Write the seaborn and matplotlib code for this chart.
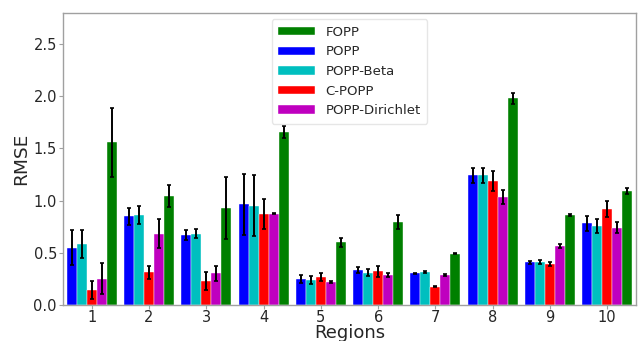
import matplotlib
matplotlib.use("Agg")
import matplotlib.pyplot as plt
import seaborn as sns
import pandas as pd
import numpy as np

regions = ["1", "2", "3", "4", "5", "6", "7", "8", "9", "10"]
methods = ["POPP", "POPP-Beta", "C-POPP", "POPP-Dirichlet", "FOPP"]
colors = ["#0000ff", "#00bfbf", "#ff0000", "#bf00bf", "#008000"]
legend_order = ["FOPP", "POPP", "POPP-Beta", "C-POPP", "POPP-Dirichlet"]

popp = [0.549, 0.848, 0.667, 0.963, 0.249, 0.332, 0.303, 1.241, 0.408, 0.781]
popp_beta = [0.584, 0.861, 0.683, 0.950, 0.239, 0.309, 0.316, 1.241, 0.415, 0.756]
c_popp = [0.144, 0.313, 0.230, 0.868, 0.265, 0.322, 0.175, 1.187, 0.392, 0.919]
popp_dir = [0.252, 0.683, 0.303, 0.874, 0.217, 0.287, 0.287, 1.033, 0.561, 0.740]
fopp = [1.560, 1.043, 0.928, 1.656, 0.600, 0.794, 0.491, 1.978, 0.861, 1.091]

popp_err = [0.165, 0.080, 0.048, 0.295, 0.034, 0.029, 0.005, 0.073, 0.016, 0.070]
popp_beta_err = [0.130, 0.090, 0.046, 0.293, 0.035, 0.032, 0.005, 0.075, 0.020, 0.070]
c_popp_err = [0.083, 0.060, 0.088, 0.145, 0.037, 0.054, 0.005, 0.100, 0.019, 0.080]
popp_dir_err = [0.148, 0.136, 0.073, 0.007, 0.010, 0.022, 0.006, 0.070, 0.019, 0.054]
fopp_err = [0.330, 0.104, 0.300, 0.056, 0.040, 0.067, 0.005, 0.056, 0.013, 0.032]

values = [popp, popp_beta, c_popp, popp_dir, fopp]
errors = [popp_err, popp_beta_err, c_popp_err, popp_dir_err, fopp_err]

rows = []
for m, vals, errs in zip(methods, values, errors):
    for r, v, e in zip(regions, vals, errs):
        rows.append({"Region": r, "Method": m, "RMSE": v, "err": e})
df = pd.DataFrame(rows)

sns.set_style("white")
plt.rcParams["font.family"] = ["DejaVu Sans"]

fig = plt.figure(figsize=(6.41, 3.41), dpi=100)
ax = fig.add_axes([0.0985, 0.1056, 0.8935, 0.8574])

sns.barplot(data=df, x="Region", y="RMSE", hue="Method", order=regions,
            hue_order=methods, palette=colors, width=0.875, errorbar=None,
            saturation=1, edgecolor="white", linewidth=0.3, ax=ax)

# error bars from the same values, centred on each bar
for container, errs in zip(ax.containers, errors):
    xs = [b.get_x() + b.get_width() / 2 for b in container]
    ys = [b.get_height() for b in container]
    ax.errorbar(xs, ys, yerr=errs, fmt="none", ecolor="black",
                elinewidth=1.4, capsize=1.5, capthick=1.2, zorder=5)

ax.set_xlim(-0.5, 9.5)
ax.set_ylim(0, 2.8)
ax.set_yticks([0.0, 0.5, 1.0, 1.5, 2.0, 2.5])
ax.set_yticklabels(["0.0", "0.5", "1.0", "1.5", "2.0", "2.5"])
ax.set_xlabel("Regions", fontsize=13, labelpad=-0.6)
ax.set_ylabel("RMSE", fontsize=13.3, labelpad=2)
ax.tick_params(axis="both", labelsize=10.5, length=3, width=0.8,
               color="#a0a0a0", pad=1.5, bottom=True, left=True)
ax.tick_params(axis="x", pad=0.8)
for s in ax.spines.values():
    s.set_color("#a0a0a0")
    s.set_linewidth(1.0)

handles, labels = ax.get_legend_handles_labels()
lookup = dict(zip(labels, handles))
ax.legend([lookup[l] for l in legend_order], legend_order, loc="upper center",
          fontsize=9.5, handlelength=2.8, handleheight=0.6, labelspacing=0.5,
          borderpad=0.5, frameon=True, framealpha=0.8, edgecolor="#e0e0e0")

fig.savefig("out.png", dpi=100)
